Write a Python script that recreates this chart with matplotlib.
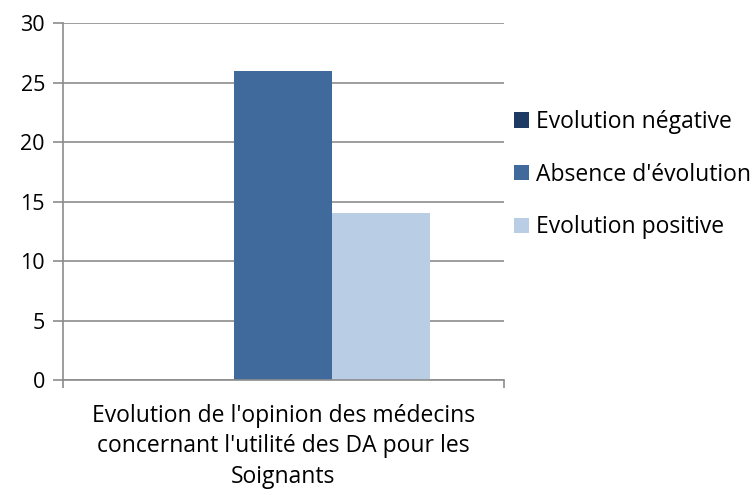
import numpy as np
import matplotlib.pyplot as plt

plt.rcParams['font.family'] = ['Open Sans', 'DejaVu Sans']

series = ["Evolution négative", "Absence d'évolution", "Evolution positive"]
values = [0, 26, 14]
colors = ['#1c3a63', '#416a9c', '#b9cde5']
category = "Evolution de l'opinion des médecins\nconcernant l'utilité des DA pour les\nSoignants"

fig = plt.figure(figsize=(7.56, 4.95), dpi=100)
ax = fig.add_axes([0.0833, 0.2323, 0.5833, 0.7212])

w = 0.2222
offsets = [-w, 0, w]
for name, v, c, off in zip(series, values, colors, offsets):
    ax.bar(off, v, width=w, color=c, label=name, zorder=2)

ax.set_xlim(-0.5, 0.5)
ax.set_ylim(0, 30)
ax.set_yticks(np.arange(0, 31, 5))
ax.yaxis.grid(True, color='#8c8c8c', linewidth=1.2, zorder=0)
ax.set_axisbelow(True)

for s in ['top', 'right']:
    ax.spines[s].set_visible(False)
for s in ['left', 'bottom']:
    ax.spines[s].set_color('#8c8c8c')
    ax.spines[s].set_linewidth(1.2)

ax.tick_params(axis='y', length=7, width=1.2, color='#8c8c8c', labelsize=15.5, pad=6)
ax.set_xticks([-0.5, 0.5])
ax.set_xticklabels(['', ''])
ax.tick_params(axis='x', length=6, width=1.2, color='#8c8c8c')
ax.text(0.5, -0.066, category, transform=ax.transAxes, ha='center', va='top',
        fontsize=16.5, linespacing=1.36)

ax.legend(loc='center left', bbox_to_anchor=(1.003, 0.575), frameon=False,
          fontsize=16.5, handlelength=0.65, handleheight=0.65, handletextpad=0.3,
          labelspacing=1.25, borderaxespad=0.0)

fig.savefig('out.png', dpi=100)
